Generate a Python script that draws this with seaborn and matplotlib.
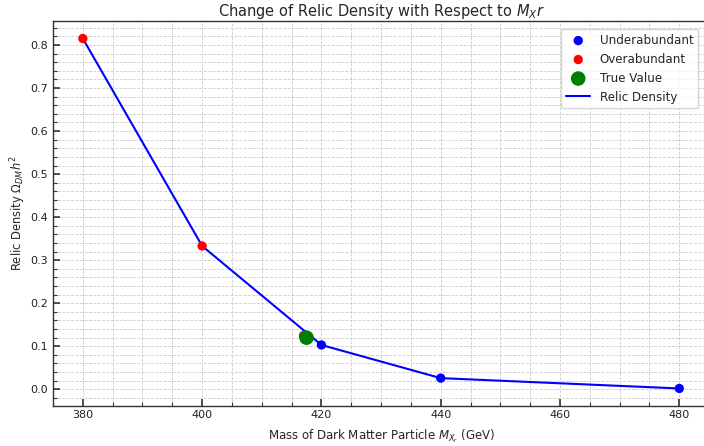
import numpy as np
import pandas as pd
import matplotlib
matplotlib.use("Agg")
import matplotlib.pyplot as plt
from matplotlib.ticker import MultipleLocator
import seaborn as sns

# Mass of the dark matter particle (GeV) and the resulting relic density
mass = [380, 400, 420, 440, 480]
relic = [0.815, 0.333, 0.103, 0.026, 0.002]

# Points above / below the observed relic density
over_mass = [380, 400, 417.0]
over_relic = [0.815, 0.333, 0.125]
under_mass = [420, 440, 480]
under_relic = [0.103, 0.026, 0.002]

# Observed value
true_mass = [417.5]
true_relic = [0.12]

sns.set_style("ticks")
plt.rcParams["font.family"] = ["DejaVu Sans"]

fig = plt.figure(figsize=(7.04, 4.46), dpi=100)
ax = fig.add_axes([0.0753, 0.0908, 0.932, 0.862])

line_df = pd.DataFrame({"mass": mass, "relic": relic})
sns.lineplot(data=line_df, x="mass", y="relic", color="blue", lw=1.5,
             label="Relic Density", ax=ax, zorder=2)
sns.scatterplot(x=under_mass, y=under_relic, color="blue", s=45,
                edgecolor="none", label="Underabundant", ax=ax, zorder=3)
sns.scatterplot(x=over_mass, y=over_relic, color="red", s=45,
                edgecolor="none", label="Overabundant", ax=ax, zorder=3)
sns.scatterplot(x=true_mass, y=true_relic, color="green", s=110,
                edgecolor="none", label="True Value", ax=ax, zorder=4)

ax.set_xlim(375, 485)
ax.set_ylim(-0.0376, 0.8556)

ax.xaxis.set_major_locator(MultipleLocator(20))
ax.xaxis.set_minor_locator(MultipleLocator(5))
ax.yaxis.set_major_locator(MultipleLocator(0.1))
ax.yaxis.set_minor_locator(MultipleLocator(0.02))
ax.tick_params(which="both", direction="in", labelsize=8, colors="#333333",
               labelcolor="#222222")
ax.tick_params(which="major", length=5, width=1.2)
ax.tick_params(which="minor", length=3, width=0.8)

ax.grid(True, which="both", linestyle="--", linewidth=0.6, color="#cccccc")
ax.set_axisbelow(True)
for s in ax.spines.values():
    s.set_color("#333333")
    s.set_linewidth(1.0)

ax.set_title(r"Change of Relic Density with Respect to $M_X r$", fontsize=10.5, pad=3)
ax.set_xlabel(r"Mass of Dark Matter Particle $M_{X_r}$ (GeV)", fontsize=8.5, labelpad=5)
ax.set_ylabel(r"Relic Density $\Omega_{DM}h^2$", fontsize=8.3, labelpad=2)

handles, labels = ax.get_legend_handles_labels()
order = ["Underabundant", "Overabundant", "True Value", "Relic Density"]
hmap = dict(zip(labels, handles))
ax.legend([hmap[k] for k in order], order, loc="upper right",
          bbox_to_anchor=(0.9925, 0.995), fontsize=8.6, frameon=True,
          framealpha=0.8, edgecolor="#cccccc")

fig.savefig("out.png", dpi=100)
